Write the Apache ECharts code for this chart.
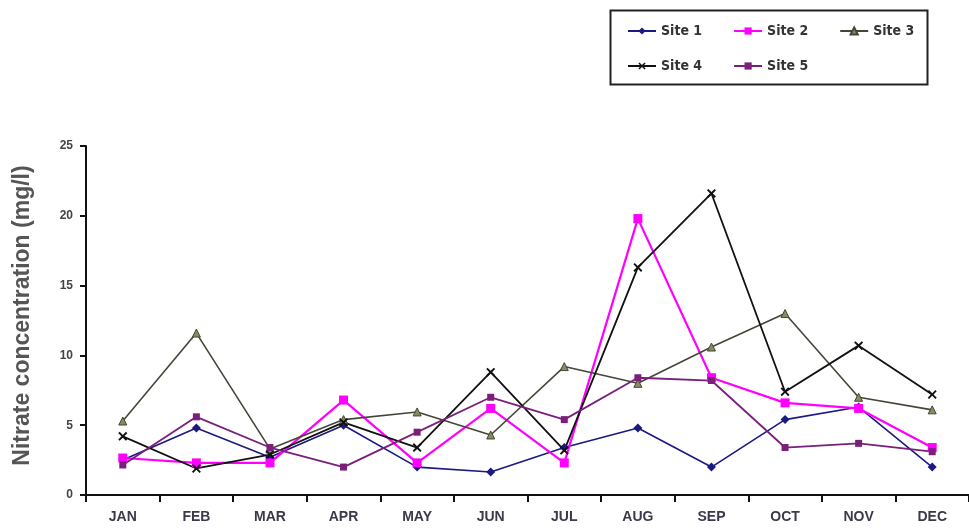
<!DOCTYPE html>
<html><head><meta charset="utf-8">
<script src="https://cdn.jsdelivr.net/npm/echarts@6/dist/echarts.min.js"></script>
<style>html,body{margin:0;padding:0;background:#fff}#c{width:969px;height:529px}</style>
</head><body><div id="c"></div>
<script>
const months = ['JAN','FEB','MAR','APR','MAY','JUN','JUL','AUG','SEP','OCT','NOV','DEC'];
const site1 = [2.5, 4.8, 2.7, 5.0, 2.0, 1.65, 3.4, 4.8, 2.0, 5.4, 6.3, 2.0];
const site2 = [2.65, 2.3, 2.3, 6.8, 2.3, 6.2, 2.3, 19.8, 8.4, 6.6, 6.2, 3.4];
const site3 = [5.3, 11.6, 3.3, 5.4, 5.95, 4.3, 9.2, 8.0, 10.6, 13.0, 7.0, 6.1];
const site4 = [4.2, 1.9, 2.9, 5.2, 3.4, 8.8, 3.2, 16.3, 21.6, 7.4, 10.7, 7.2];
const site5 = [2.15, 5.6, 3.4, 2.0, 4.5, 7.0, 5.4, 8.4, 8.2, 3.4, 3.7, 3.1];
const yTicks = [0, 5, 10, 15, 20, 25];

const xSym = 'path://M0,1.5L1.5,0L5,3.5L8.5,0L10,1.5L6.5,5L10,8.5L8.5,10L5,6.5L1.5,10L0,8.5L3.5,5Z';
const cond = '"DejaVu Sans Condensed","Liberation Sans Narrow",sans-serif';
const font = '"Liberation Sans",Arial,sans-serif';

function mk(name, data, color, symbol, size, width, fill) {
  return {
    name, type: 'line', data, symbol, symbolSize: size,
    lineStyle: { color, width },
    itemStyle: { color: fill || color, borderColor: color, borderWidth: fill ? 1 : 0 },
    emphasis: { disabled: true }, z: 2
  };
}
const chart = echarts.init(document.getElementById('c'), null, { renderer: 'canvas' });
const legendText = { fontFamily: cond, fontWeight: 'bold', fontSize: 14, color: '#333' };
chart.setOption({
  animation: false,
  backgroundColor: '#fff',
  graphic: [{ type: 'rect', left: 608, top: 8, shape: { width: 317, height: 74 },
    style: { fill: 'none', stroke: '#222', lineWidth: 2 }, z: 100 }],
  legend: [
    { data: ['Site 1', 'Site 2', 'Site 3'], left: 627, top: 24, itemGap: 31, itemWidth: 28, itemHeight: 9,
      textStyle: legendText, selectedMode: false, padding: 0 },
    { data: ['Site 4', 'Site 5'], left: 627, top: 59, itemGap: 31, itemWidth: 28, itemHeight: 9,
      textStyle: legendText, selectedMode: false, padding: 0 }
  ],
  grid: { left: 86, top: 146, width: 894, bottom: 34, containLabel: false },
  xAxis: {
    type: 'category', data: months, boundaryGap: true,
    axisLine: { lineStyle: { color: '#111', width: 2 } },
    axisTick: { show: true, length: 7, lineStyle: { color: '#111', width: 2 } },
    axisLabel: { color: '#3a3a4a', fontFamily: font, fontWeight: 'bold', fontSize: 14, margin: 15 }
  },
  yAxis: {
    type: 'value', min: 0, max: 25, interval: 5,
    name: 'Nitrate concentration (mg/l)', nameLocation: 'middle', nameGap: 52,
    nameTextStyle: { color: '#555', fontFamily: font, fontWeight: 'bold', fontSize: 23, padding: [0, 0, 0, 10] },
    splitLine: { show: false },
    axisLine: { show: true, lineStyle: { color: '#111', width: 2 } },
    axisTick: { show: true, length: 6, lineStyle: { color: '#111', width: 2 } },
    axisLabel: { color: '#444', fontFamily: font, fontWeight: 'bold', fontSize: 12, margin: 13,
      formatter: v => yTicks.includes(v) ? String(v) : '' }
  },
  series: [
    mk('Site 1', site1, '#1a1a80', 'diamond', 9, 1.6),
    mk('Site 2', site2, '#ff00ff', 'rect', 9, 2.2),
    mk('Site 3', site3, '#454538', 'triangle', 8, 1.6, '#8a8a60'),
    mk('Site 4', site4, '#111111', xSym, 9, 1.8),
    mk('Site 5', site5, '#7a1f7a', 'rect', 7, 1.8)
  ]
});
</script></body></html>
